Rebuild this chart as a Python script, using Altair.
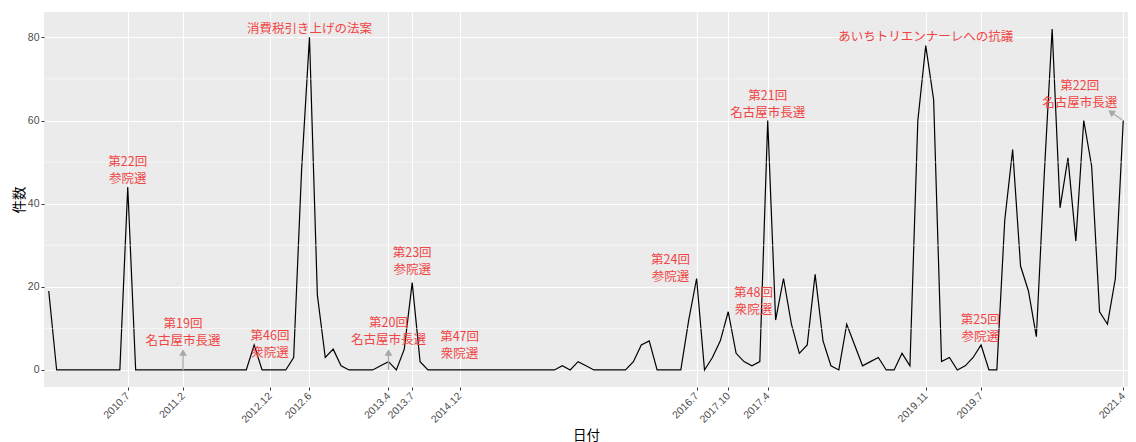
import altair as alt
import pandas as pd

# x categories: months as strings, ordered alphabetically (as in the original factor axis)
months = [
    "2009.12",
    "2010.1", "2010.10", "2010.11", "2010.12", "2010.2", "2010.3", "2010.4", "2010.5", "2010.6", "2010.7", "2010.8", "2010.9",
    "2011.1", "2011.10", "2011.11", "2011.12", "2011.2", "2011.3", "2011.4", "2011.5", "2011.6", "2011.7", "2011.8", "2011.9",
    "2012.1", "2012.10", "2012.11", "2012.12", "2012.2", "2012.3", "2012.4", "2012.5", "2012.6", "2012.7", "2012.8", "2012.9",
    "2013.1", "2013.10", "2013.11", "2013.12", "2013.2", "2013.3", "2013.4", "2013.5", "2013.6", "2013.7", "2013.8", "2013.9",
    "2014.1", "2014.10", "2014.11", "2014.12", "2014.2", "2014.3", "2014.4", "2014.5", "2014.6", "2014.7", "2014.8", "2014.9",
    "2015.1", "2015.10", "2015.11", "2015.12", "2015.2", "2015.3", "2015.4", "2015.5", "2015.6", "2015.7", "2015.8", "2015.9",
    "2016.1", "2016.10", "2016.11", "2016.12", "2016.2", "2016.3", "2016.4", "2016.5", "2016.6", "2016.7", "2016.8", "2016.9",
    "2017.1", "2017.10", "2017.11", "2017.12", "2017.2", "2017.3", "2017.4", "2017.5", "2017.6", "2017.7", "2017.8", "2017.9",
    "2018.1", "2018.10", "2018.11", "2018.12", "2018.2", "2018.3", "2018.4", "2018.5", "2018.6", "2018.7", "2018.8", "2018.9",
    "2019.1", "2019.10", "2019.11", "2019.12", "2019.2", "2019.3", "2019.4", "2019.5", "2019.6", "2019.7", "2019.8", "2019.9",
    "2020.1", "2020.10", "2020.11", "2020.12", "2020.2", "2020.3", "2020.4", "2020.5", "2020.6", "2020.7", "2020.8", "2020.9",
    "2021.1", "2021.2", "2021.3", "2021.4",
]

counts = [
    19,
    0, 0, 0, 0, 0, 0, 0, 0, 0, 44, 0, 0,
    0, 0, 0, 0, 0, 0, 0, 0, 0, 0, 0, 0,
    0, 6, 0, 0, 0, 0, 3, 48, 80, 18, 3, 5,
    1, 0, 0, 0, 0, 1, 2, 0, 5, 21, 2, 0,
    0, 0, 0, 0, 0, 0, 0, 0, 0, 0, 0, 0,
    0, 0, 0, 0, 1, 0, 2, 1, 0, 0, 0, 0,
    0, 2, 6, 7, 0, 0, 0, 0, 12, 22, 0, 3,
    7, 14, 4, 2, 1, 2, 60, 12, 22, 11, 4, 6,
    23, 7, 1, 0, 11, 6, 1, 2, 3, 0, 0, 4,
    1, 60, 78, 65, 2, 3, 0, 1, 3, 6, 0, 0,
    36, 53, 25, 19, 8, 47, 82, 39, 51, 31, 60, 49,
    14, 11, 22, 60,
]
assert len(months) == len(counts)

tick_labels = ["2010.7", "2011.2", "2012.12", "2012.6", "2013.4", "2013.7", "2014.12",
               "2016.7", "2017.10", "2017.4", "2019.11", "2019.7", "2021.4"]

y_major = [0, 20, 40, 60, 80]
y_minor = [10, 30, 50, 70]

# annotations (position in category-index / count units, y = centre of first line)
ann_text = ["第22回\n参院選", "第19回\n名古屋市長選", "第46回\n衆院選", "消費税引き上げの法案",
            "第20回\n名古屋市長選", "第23回\n参院選", "第47回\n衆院選", "第24回\n参院選",
            "第48回\n衆院選", "第21回\n名古屋市長選", "あいちトリエンナーレへの抗議",
            "第25回\n参院選", "第22回\n名古屋市長選"]
ann_x = [10, 17, 28, 33, 43, 46, 52, 78.7, 89.2, 91, 111, 117.9, 130.5]
ann_y = [50.0, 11.1, 8.2, 82.0, 11.4, 28.2, 8.0, 26.5, 18.5, 66.0, 80.2, 11.9, 68.4]

# arrows: shaft start/end and head
arr_x = [17, 43, 135.85]
arr_y = [0, 0, 60.2]
arr_x2 = [17, 43, 134.6]
arr_y2 = [4.0, 4.0, 61.8]
head_x = [17, 43, 134.45]
head_y = [4.2, 4.2, 62.0]
head_angle = [0, 0, 305]

idx = list(range(len(months)))
tick_idx = [months.index(t) for t in tick_labels]

df = pd.DataFrame({"idx": idx, "month": months, "count": counts})
ann_df = pd.DataFrame({"x": ann_x, "y": ann_y, "label": ann_text})
arr_df = pd.DataFrame({"x": arr_x, "y": arr_y, "x2": arr_x2, "y2": arr_y2})
head_df = pd.DataFrame({"x": head_x, "y": head_y, "angle": head_angle})
minor_df = pd.DataFrame({"v": y_minor})

label_expr = " : ".join(f"datum.value == {i} ? '{t}'" for i, t in zip(tick_idx, tick_labels)) + " : ''"

xscale = alt.Scale(domain=[-0.6, len(months) - 1 + 0.6], nice=False, zero=False)
yscale = alt.Scale(domain=[-4.1, 86.1], nice=False, zero=False)

x_axis = alt.Axis(values=tick_idx, labelExpr=label_expr, labelAngle=315, labelAlign="right",
                  labelBaseline="middle", labelPadding=4, labelOverlap=False, labelBound=False,
                  grid=True, gridColor="white", gridWidth=1.1,
                  title="日付", titleY=48, titleBaseline="middle")
y_axis = alt.Axis(values=y_major, grid=True, gridColor="white", gridWidth=1.1,
                  labelOverlap=False,
                  title="件数", titleX=-25, titleBaseline="middle", labelPadding=2)

line = alt.Chart(df).mark_line(color="black", strokeWidth=1.2).encode(
    x=alt.X("idx:Q", scale=xscale, axis=x_axis),
    y=alt.Y("count:Q", scale=yscale, axis=y_axis),
)

minor = alt.Chart(minor_df).mark_rule(color="white", strokeWidth=0.55).encode(
    y=alt.Y("v:Q", scale=yscale, axis=y_axis)
)

text = alt.Chart(ann_df).mark_text(
    color="#F04545", fontSize=12.5, font="Noto Sans CJK JP", lineBreak="\n",
    lineHeight=17, baseline="middle", align="center"
).encode(
    x=alt.X("x:Q", scale=xscale, axis=x_axis),
    y=alt.Y("y:Q", scale=yscale, axis=y_axis),
    text="label:N",
)

shafts = alt.Chart(arr_df).mark_rule(color="#A9A9A9", strokeWidth=1.3).encode(
    x=alt.X("x:Q", scale=xscale, axis=x_axis), y=alt.Y("y:Q", scale=yscale, axis=y_axis),
    x2="x2:Q", y2="y2:Q",
)

heads = alt.Chart(head_df).mark_point(shape="triangle-up", filled=True, color="#A9A9A9",
                                      size=60, opacity=1).encode(
    x=alt.X("x:Q", scale=xscale, axis=x_axis), y=alt.Y("y:Q", scale=yscale, axis=y_axis),
    angle=alt.Angle("angle:Q", scale=None),
)

chart = alt.layer(line, minor, shafts, heads, text).properties(
    width=1084, height=375,
    autosize=alt.AutoSizeParams(type="none"),
    padding={"left": 36, "top": 4, "right": 0, "bottom": 55},
).configure_view(
    fill="#EBEBEB", strokeWidth=0
).configure_axis(
    domain=False, tickColor="#333333", tickSize=3, tickWidth=1,
    labelColor="#4D4D4D", labelFont="Liberation Sans", labelFontSize=10.5,
    titleFont="Noto Sans CJK JP", titleFontSize=13.5, titleFontWeight="normal", titleColor="black",
)

chart.save("out.html", embed_options={"renderer": "svg", "actions": False})
